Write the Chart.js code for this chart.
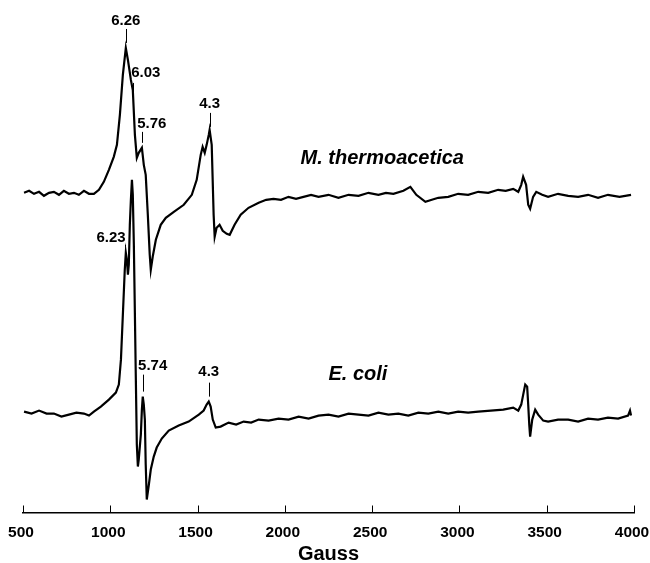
<!DOCTYPE html>
<html>
<head>
<meta charset="utf-8">
<script src="https://cdn.jsdelivr.net/npm/chart.js@4"></script>
<style>
  html, body { margin: 0; padding: 0; background: #fff; }
  #wrap { width: 650px; height: 563px; }
</style>
</head>
<body>
<div id="wrap"><canvas id="myChart" width="650" height="563"></canvas></div>
<script>
// field in Gauss, signal in arbitrary units (top trace offset above bottom trace)
const mtField = [506, 535, 563, 592, 620, 649, 677, 706, 734, 763, 792, 820, 849, 878, 906, 935, 963, 992, 1020, 1038, 1055, 1072, 1089, 1101, 1118, 1129, 1141, 1152, 1163, 1181, 1192, 1203, 1215, 1226, 1232, 1243, 1261, 1289, 1318, 1364, 1421, 1467, 1495, 1518, 1529, 1541, 1552, 1564, 1569, 1581, 1592, 1598, 1609, 1626, 1644, 1667, 1684, 1712, 1747, 1792, 1850, 1893, 1935, 1978, 2021, 2064, 2107, 2150, 2193, 2250, 2307, 2365, 2422, 2479, 2536, 2579, 2622, 2679, 2719, 2753, 2805, 2842, 2879, 2936, 2993, 3050, 3108, 3165, 3222, 3265, 3308, 3337, 3354, 3365, 3382, 3394, 3405, 3422, 3440, 3474, 3508, 3565, 3623, 3680, 3737, 3794, 3851, 3917, 3983];
const mtSignal = [322, 324, 321, 323, 319, 322, 323, 320, 324, 321, 322, 320, 324, 321, 321, 325, 333, 345, 358, 370, 400, 440, 467, 455, 435, 425, 380, 357, 362, 367, 350, 340, 300, 260, 245, 258, 275, 290, 297, 303, 310, 320, 335, 360, 368, 362, 370, 380, 385, 370, 300, 278, 287, 290, 284, 281, 280, 290, 300, 307, 312, 315, 316, 315, 318, 316, 318, 320, 318, 320, 317, 320, 319, 322, 320, 322, 321, 324, 328, 320, 313, 315, 317, 318, 321, 320, 323, 322, 325, 324, 326, 323, 330, 338, 330, 310, 306, 318, 323, 320, 318, 321, 319, 318, 320, 317, 320, 318, 320];

const ecField = [506, 549, 592, 635, 677, 720, 763, 806, 849, 878, 906, 946, 992, 1032, 1049, 1061, 1072, 1083, 1089, 1095, 1101, 1106, 1112, 1118, 1124, 1129, 1135, 1141, 1146, 1152, 1158, 1163, 1175, 1181, 1186, 1192, 1198, 1203, 1209, 1221, 1232, 1249, 1266, 1295, 1335, 1392, 1449, 1507, 1535, 1552, 1564, 1575, 1587, 1604, 1632, 1678, 1721, 1764, 1807, 1850, 1907, 1964, 2021, 2079, 2136, 2193, 2250, 2307, 2365, 2422, 2479, 2536, 2593, 2650, 2707, 2765, 2822, 2879, 2936, 2993, 3050, 3108, 3180, 3251, 3308, 3337, 3354, 3371, 3377, 3388, 3394, 3400, 3405, 3417, 3434, 3451, 3480, 3508, 3565, 3623, 3680, 3737, 3794, 3851, 3909, 3966, 3977, 3983];
const ecSignal = [103, 101, 104, 101, 101, 98, 100, 102, 101, 99, 103, 108, 115, 122, 130, 155, 200, 245, 262, 255, 240, 250, 290, 315, 335, 320, 270, 200, 140, 70, 48, 55, 80, 105, 118, 110, 95, 50, 15, 30, 45, 58, 67, 76, 84, 89, 93, 100, 104, 110, 113, 108, 95, 87, 88, 92, 90, 93, 92, 95, 94, 96, 95, 98, 96, 99, 100, 98, 101, 100, 99, 102, 100, 101, 99, 102, 101, 103, 101, 103, 102, 103, 104, 105, 107, 104, 110, 125, 130, 128, 110, 90, 78, 95, 105, 100, 94, 93, 95, 95, 93, 96, 95, 97, 96, 99, 104, 99];

const xTicks = [500, 1000, 1500, 2000, 2500, 3000, 3500, 4000];

// g-value labels: text, field of marker, marker from/to, label position
const gText = ["6.26", "6.03", "5.76", "4.3", "6.23", "5.74", "4.3"];
const gField = [1089, 1129, 1181, 1569, 1083, 1186, 1564];
const gMarkTop = [486, 432, 383, 402, 270, 140, 132];
const gMarkBottom = [472, 418, 372, 388, 258, 123, 118];
const gLabelField = [1089, 1203, 1238, 1569, 1004, 1243, 1564];
const gLabelSignal = [494, 442, 391, 411, 277, 149, 143];

const species = ["M. thermoacetica", "E. coli"];
const speciesField = [2090, 2250];
const speciesSignal = [356, 140];

const toPoints = (xs, ys) => xs.map((x, i) => ({ x: x, y: ys[i] }));

const annotatePlugin = {
  id: "epr",
  afterDatasetsDraw: (chart) => {
    const { ctx, scales } = chart;
    const x = scales.x, y = scales.y;
    ctx.save();
    // upward axis ticks
    ctx.strokeStyle = "#000";
    ctx.lineWidth = 1;
    xTicks.forEach((t) => {
      const px = Math.round(x.getPixelForValue(t)) + 0.5;
      ctx.beginPath();
      ctx.moveTo(px, chart.chartArea.bottom);
      ctx.lineTo(px, chart.chartArea.bottom - 7);
      ctx.stroke();
    });
    // g-value markers and labels
    ctx.fillStyle = "#000";
    ctx.font = "bold 15px 'Liberation Sans', Arial, sans-serif";
    ctx.textAlign = "center";
    ctx.textBaseline = "middle";
    gText.forEach((txt, i) => {
      const px = Math.round(x.getPixelForValue(gField[i])) + 0.5;
      ctx.beginPath();
      if (i === 4) ctx.setLineDash([2, 1]); else ctx.setLineDash([]);
      ctx.moveTo(px, y.getPixelForValue(gMarkTop[i]));
      ctx.lineTo(px, y.getPixelForValue(gMarkBottom[i]));
      ctx.stroke();
      ctx.fillText(txt, x.getPixelForValue(gLabelField[i]), y.getPixelForValue(gLabelSignal[i]));
    });
    ctx.setLineDash([]);
    // sample names
    ctx.font = "italic bold 20px 'Liberation Sans', Arial, sans-serif";
    ctx.textAlign = "left";
    species.forEach((s, i) => {
      ctx.fillText(s, x.getPixelForValue(speciesField[i]), y.getPixelForValue(speciesSignal[i]));
    });
    ctx.restore();
  },
};

const ctx = document.getElementById("myChart");

new Chart(ctx, {
  type: "line",
  data: {
    datasets: [
      {
        label: "M. thermoacetica",
        data: toPoints(mtField, mtSignal),
        borderColor: "#000",
        borderWidth: 2.2,
        pointRadius: 0,
        tension: 0,
        fill: false,
      },
      {
        label: "E. coli",
        data: toPoints(ecField, ecSignal),
        borderColor: "#000",
        borderWidth: 2.2,
        pointRadius: 0,
        tension: 0,
        fill: false,
      },
    ],
  },
  options: {
    responsive: false,
    animation: false,
    layout: {
      padding: { left: 23, right: 16, top: 10, bottom: 0 },
    },
    plugins: {
      legend: { display: false },
      tooltip: { enabled: false },
    },
    scales: {
      x: {
        type: "linear",
        min: 500,
        max: 4000,
        afterBuildTicks: (scale) => {
          scale.ticks = xTicks.map((v) => ({ value: v }));
        },
        afterFit: (scale) => {
          scale.paddingLeft = 0;
          scale.paddingRight = 0;
        },
        border: { display: true, color: "#000", width: 1.5 },
        grid: { display: false, drawTicks: false },
        ticks: {
          color: "#000",
          padding: 12,
          labelOffset: -2,
          maxRotation: 0,
          autoSkip: false,
          callback: (v) => String(v),
          font: { family: "'Liberation Sans', Arial, sans-serif", size: 15.5, weight: "bold", lineHeight: 1 },
        },
        title: {
          display: true,
          text: "Gauss",
          color: "#000",
          padding: { top: -8, bottom: -1 },
          font: { family: "'Liberation Sans', Arial, sans-serif", size: 20, weight: "bold", lineHeight: 1 },
        },
      },
      y: {
        display: false,
        min: 2,
        max: 505,
      },
    },
  },
  plugins: [annotatePlugin],
});
</script>
</body>
</html>
